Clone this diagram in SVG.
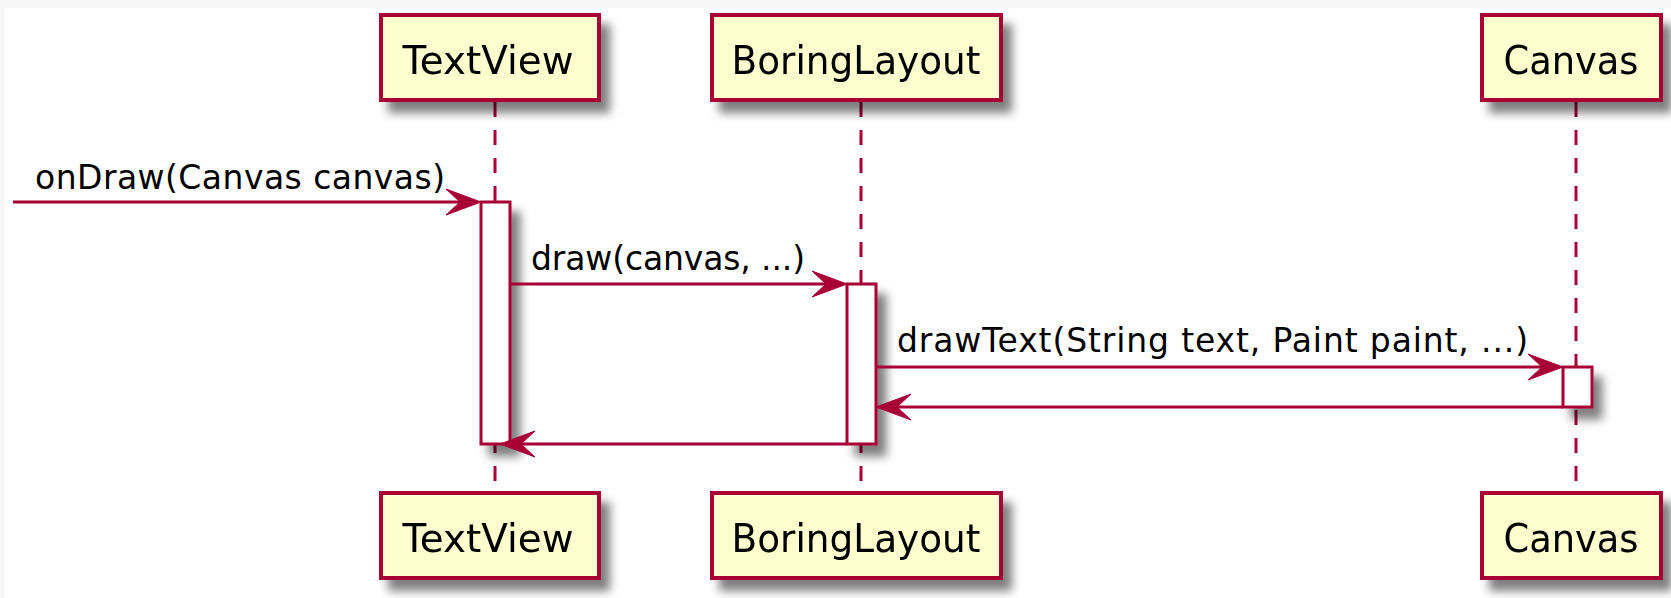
<svg xmlns="http://www.w3.org/2000/svg" width="1671" height="598" viewBox="0 0 1671 598">
  <style>
    .box { fill: #FEFECE; stroke: #A80036; stroke-width: 4; }
    .act { fill: #FFFFFF; stroke: #A80036; stroke-width: 3; }
    .life { stroke: #A80036; stroke-width: 3; stroke-dasharray: 15 13; fill: none; }
    .msg { stroke: #A80036; stroke-width: 3; fill: none; }
    .head { fill: #A80036; stroke: #A80036; stroke-width: 1; stroke-linejoin: miter; }
    .pname { font-family: "DejaVu Sans", "Liberation Sans", sans-serif; font-size: 39px; fill: #000000; text-anchor: middle; }
    .label { font-family: "DejaVu Sans", "Liberation Sans", sans-serif; font-size: 33px; fill: #000000; }
  </style>
  <defs>
    <filter id="shadow" x="-20%" y="-20%" width="150%" height="170%">
      <feGaussianBlur in="SourceAlpha" stdDeviation="5" result="blur"/>
      <feOffset in="blur" dx="9" dy="11" result="off"/>
      <feFlood flood-color="#000000" flood-opacity="0.5"/>
      <feComposite in2="off" operator="in" result="sh"/>
      <feMerge>
        <feMergeNode in="sh"/>
        <feMergeNode in="SourceGraphic"/>
      </feMerge>
    </filter>
  </defs>

  <!-- page background with thin grey frame at top and left -->
  <rect x="0" y="0" width="1671" height="598" fill="#F7F7F7"/>
  <rect x="5" y="8" width="1666" height="590" fill="#FFFFFF"/>

  <!-- lifelines -->
  <g id="lifelines">
    <line class="life" x1="495" y1="102" x2="495" y2="493"/>
    <line class="life" x1="861" y1="102" x2="861" y2="493"/>
    <line class="life" x1="1576" y1="102" x2="1576" y2="493"/>
  </g>

  <!-- activation bars -->
  <g id="activations" filter="url(#shadow)">
    <rect class="act" x="481" y="202" width="29" height="242"/>
    <rect class="act" x="847" y="284" width="29" height="160"/>
    <rect class="act" x="1563" y="367" width="29" height="40"/>
  </g>

  <!-- messages -->
  <g id="connectors">
    <line class="msg" x1="13" y1="202" x2="466" y2="202"/>
    <polygon class="head" points="446,189 481,202 446,215 460,202"/>
    <text class="label" x="35" y="189" textLength="410" lengthAdjust="spacing">onDraw(Canvas canvas)</text>

    <line class="msg" x1="510" y1="284" x2="833" y2="284"/>
    <polygon class="head" points="812,271 847,284 812,297 826,284"/>
    <text class="label" x="531" y="270" textLength="274" lengthAdjust="spacing">draw(canvas, ...)</text>

    <line class="msg" x1="876" y1="367" x2="1549" y2="367"/>
    <polygon class="head" points="1528,354 1563,367 1528,380 1542,367"/>
    <text class="label" x="897" y="352" textLength="631" lengthAdjust="spacing">drawText(String text, Paint paint, ...)</text>

    <line class="msg" x1="1563" y1="407" x2="890" y2="407"/>
    <polygon class="head" points="911,394 876,407 911,420 897,407"/>

    <line class="msg" x1="847" y1="444" x2="514" y2="444"/>
    <polygon class="head" points="535,431 500,444 535,457 521,444"/>
  </g>

  <!-- participants -->
  <g id="textview" filter="url(#shadow)">
    <rect class="box" x="381" y="15" width="218" height="85"/>
    <text class="pname" x="488" y="74" textLength="171" lengthAdjust="spacingAndGlyphs">TextView</text>
    <rect class="box" x="381" y="493" width="218" height="85"/>
    <text class="pname" x="488" y="552" textLength="171" lengthAdjust="spacingAndGlyphs">TextView</text>
  </g>
  <g id="boringlayout" filter="url(#shadow)">
    <rect class="box" x="712" y="15" width="289" height="85"/>
    <text class="pname" x="856" y="74" textLength="249" lengthAdjust="spacingAndGlyphs">BoringLayout</text>
    <rect class="box" x="712" y="493" width="289" height="85"/>
    <text class="pname" x="856" y="552" textLength="249" lengthAdjust="spacingAndGlyphs">BoringLayout</text>
  </g>
  <g id="canvas" filter="url(#shadow)">
    <rect class="box" x="1482" y="15" width="179" height="85"/>
    <text class="pname" x="1571" y="74" textLength="135" lengthAdjust="spacingAndGlyphs">Canvas</text>
    <rect class="box" x="1482" y="493" width="179" height="85"/>
    <text class="pname" x="1571" y="552" textLength="135" lengthAdjust="spacingAndGlyphs">Canvas</text>
  </g>
</svg>
